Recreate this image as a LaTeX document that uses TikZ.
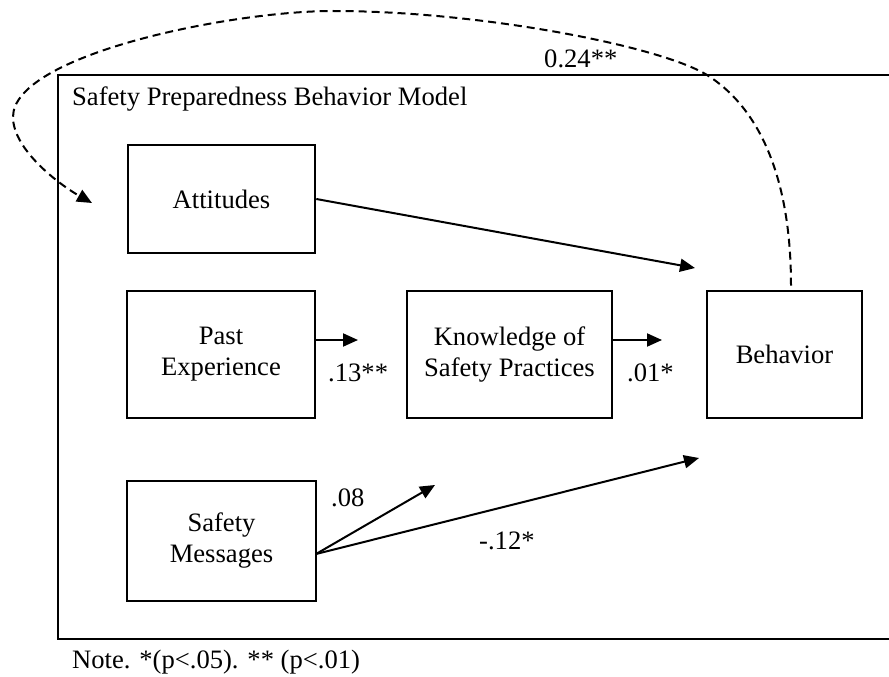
\documentclass[tikz,border=0pt]{standalone}
\usepackage{fontspec}
\setmainfont{Liberation Serif}
\usetikzlibrary{arrows.meta}
\begin{document}
\begin{tikzpicture}[x=1pt,y=-1pt,
  txt/.style={font=\fontsize{26.6}{31}\selectfont},
  box/.style={txt,draw,line width=2.6pt,align=center,inner sep=0pt},
  lbl/.style={txt,anchor=base west,inner sep=0pt},
  arr/.style={line width=2pt,-{Triangle[length=15pt,width=13pt]}},
  darr/.style={line width=2pt,dash pattern=on 8pt off 5pt,-{Triangle[length=15pt,width=13pt]}}]
\useasboundingbox (0,0) rectangle (889,677);
% frame (right side lies beyond the picture)
\draw[line width=2.8pt] (900,75) -- (58,75) -- (58,639) -- (900,639);
\node[lbl] (title) at (72,105) {Safety Preparedness Behavior Model};
% boxes
\node[box,minimum width=187pt,minimum height=108pt] (att) at (221.5,199) {Attitudes};
\node[box,minimum width=188pt,minimum height=127pt] (past) at (221,354.5) {Past\\Experience};
\node[box,minimum width=205pt,minimum height=127pt] (know) at (509.5,354.5) {Knowledge of\\Safety Practices};
\node[box,minimum width=155pt,minimum height=127pt] (beh) at (784.5,354.5) {Behavior};
\node[box,minimum width=189pt,minimum height=120pt] (msg) at (221.5,541) {Safety\\Messages};
% free ends
\coordinate (t1) at (695,268);
\coordinate (t2) at (358,340);
\coordinate (t3) at (662,340);
\coordinate (ms) at (316,554);
\coordinate (t4) at (435,485);
\coordinate (t5) at (699,458);
\coordinate (dtip) at (92,203);
% connectors
\draw[arr] (att.east) -- (t1);
\draw[arr] (past.east |- t2) -- (t2);
\draw[arr] (know.east |- t3) -- (t3);
\draw[arr] (ms) -- (t4);
\draw[arr] (ms) -- (t5);
\draw[darr] ([xshift=6.5pt,yshift=4pt]beh.north) .. controls (791,170) and (755,105) .. (707,75)
  .. controls (660,46) and (480,11) .. (333,11)
  .. controls (230,11) and (13,55) .. (13,117)
  .. controls (13,150) and (60,185) .. (dtip);
% labels
\node[lbl] (l24) at (544,68) {0.24**};
\node[lbl] (l13) at (328,381) {.13**};
\node[lbl] (l01) at (627,381) {.01*};
\node[lbl] (l08) at (331,506) {.08};
\node[lbl] (l12) at (479,549) {-.12*};
\node[lbl] (note) at (72,668) {Note. *(p<.05). ** (p<.01)};
\end{tikzpicture}
\end{document}
